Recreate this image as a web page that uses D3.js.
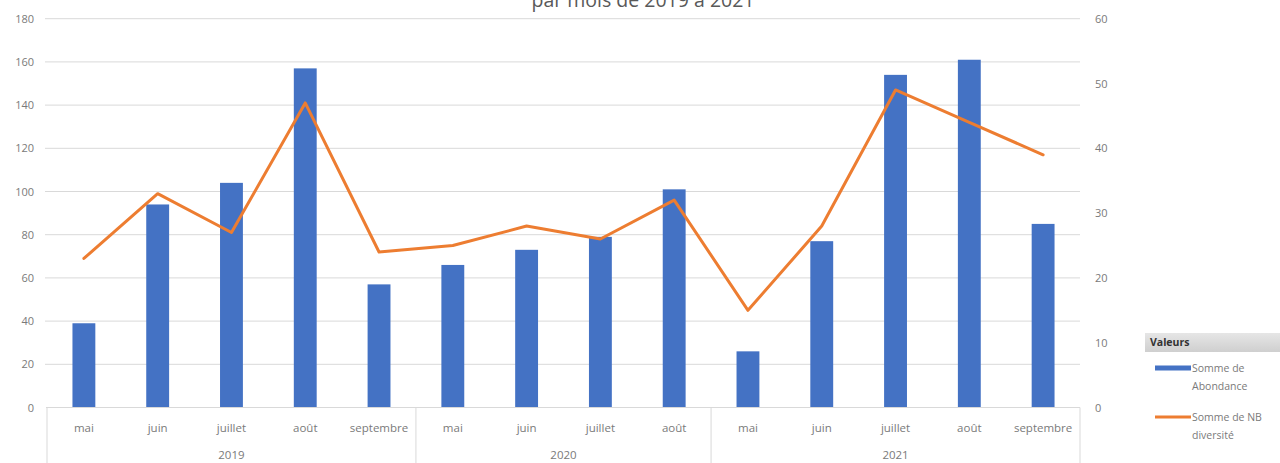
<!DOCTYPE html>
<html>
<head>
<meta charset="utf-8">
<script src="https://cdn.jsdelivr.net/npm/d3@7"></script>
<style>
  html, body { margin: 0; padding: 0; background: #fff; }
  svg { display: block; }
</style>
</head>
<body>
<svg id="chart" width="1280" height="463"></svg>
<script>
// Monthly abundance (bars, left axis) and diversity (line, right axis)
const monthLabels = ["mai", "juin", "juillet", "août", "septembre",
                     "mai", "juin", "juillet", "août",
                     "mai", "juin", "juillet", "août", "septembre"];
const yearOfMonth = ["2019", "2019", "2019", "2019", "2019",
                     "2020", "2020", "2020", "2020",
                     "2021", "2021", "2021", "2021", "2021"];
const years = ["2019", "2020", "2021"];
const abondance = [39, 94, 104, 157, 57, 66, 73, 79, 101, 26, 77, 154, 161, 85];
const diversite = [23, 33, 27, 47, 24, 25, 28, 26, 32, 15, 28, 49, 44, 39];
const leftTicks = [0, 20, 40, 60, 80, 100, 120, 140, 160, 180];
const rightTicks = [0, 10, 20, 30, 40, 50, 60];

const svg = d3.select("#chart");
const font = "'Open Sans', 'Noto Sans', sans-serif";
const textColor = "#7a7a7a";
const gridColor = "#d9d9d9";

const plot = { left: 47, right: 1080, top: 18.7, bottom: 407.5 };

const keys = monthLabels.map((m, i) => i);
const x = d3.scaleBand()
  .domain(keys)
  .range([plot.left, plot.right])
  .paddingInner(0.69)
  .paddingOuter(0.345);

const yLeft = d3.scaleLinear().domain([0, 180]).range([plot.bottom, plot.top]);
const yRight = d3.scaleLinear().domain([0, 60]).range([plot.bottom, plot.top]);

// Title (second line of the chart heading)
svg.append("text")
  .attr("x", 643)
  .attr("y", 6.5)
  .attr("text-anchor", "middle")
  .attr("font-family", font)
  .attr("font-size", 19.5)
  .attr("fill", "#595959")
  .text("par mois de 2019 à 2021");

// Horizontal gridlines
svg.append("g")
  .selectAll("line")
  .data(leftTicks.filter(d => d > 0))
  .join("line")
  .attr("x1", plot.left - 2)
  .attr("x2", plot.right)
  .attr("y1", d => yLeft(d))
  .attr("y2", d => yLeft(d))
  .attr("stroke", gridColor)
  .attr("stroke-width", 1);

// Left axis
const leftAxis = svg.append("g")
  .attr("transform", `translate(${plot.left - 13},0)`)
  .call(d3.axisLeft(yLeft).tickValues(leftTicks).tickSize(0).tickPadding(0));
leftAxis.select(".domain").remove();
leftAxis.selectAll("text")
  .attr("font-family", font)
  .attr("font-size", 11)
  .attr("fill", textColor);

// Right axis
const rightAxis = svg.append("g")
  .attr("transform", `translate(${plot.right + 15},0)`)
  .call(d3.axisRight(yRight).tickValues(rightTicks).tickSize(0).tickPadding(0));
rightAxis.select(".domain").remove();
rightAxis.selectAll("text")
  .attr("font-family", font)
  .attr("font-size", 11)
  .attr("fill", textColor);

// Bars
svg.append("g")
  .selectAll("rect")
  .data(abondance)
  .join("rect")
  .attr("x", (d, i) => x(i))
  .attr("width", x.bandwidth())
  .attr("y", d => yLeft(d))
  .attr("height", d => yLeft(0) - yLeft(d))
  .attr("fill", "#4472C4");

// Diversity line
const line = d3.line()
  .x((d, i) => x(i) + x.bandwidth() / 2)
  .y(d => yRight(d));
svg.append("path")
  .datum(diversite)
  .attr("d", line)
  .attr("fill", "none")
  .attr("stroke", "#ED7D31")
  .attr("stroke-width", 3)
  .attr("stroke-linejoin", "round")
  .attr("stroke-linecap", "round");

// Category axis: baseline, group separators, labels
const axisG = svg.append("g");
axisG.append("line")
  .attr("x1", plot.left - 1).attr("x2", plot.right)
  .attr("y1", plot.bottom).attr("y2", plot.bottom)
  .attr("stroke", gridColor).attr("stroke-width", 1);

const step = x.step();
const groupBounds = years.map(yr => {
  const idx = keys.filter(i => yearOfMonth[i] === yr);
  const start = x(idx[0]) - (step - x.bandwidth()) / 2;
  const end = x(idx[idx.length - 1]) + x.bandwidth() + (step - x.bandwidth()) / 2;
  return { yr, start, end };
});

const sepX = [groupBounds[0].start].concat(groupBounds.map(g => g.end));
axisG.selectAll("line.sep")
  .data(sepX)
  .join("line")
  .attr("class", "sep")
  .attr("x1", d => d).attr("x2", d => d)
  .attr("y1", plot.bottom).attr("y2", 463)
  .attr("stroke", gridColor).attr("stroke-width", 1);

axisG.selectAll("text.month")
  .data(monthLabels)
  .join("text")
  .attr("class", "month")
  .attr("x", (d, i) => x(i) + x.bandwidth() / 2)
  .attr("y", 432)
  .attr("text-anchor", "middle")
  .attr("font-family", font)
  .attr("font-size", 11.5)
  .attr("fill", textColor)
  .text(d => d);

axisG.selectAll("text.year")
  .data(groupBounds)
  .join("text")
  .attr("class", "year")
  .attr("x", d => (d.start + d.end) / 2)
  .attr("y", 459)
  .attr("text-anchor", "middle")
  .attr("font-family", font)
  .attr("font-size", 11.5)
  .attr("fill", textColor)
  .text(d => d.yr);

// Legend
const legend = svg.append("g");
const grad = svg.append("defs").append("linearGradient")
  .attr("id", "legendHeader").attr("x1", 0).attr("x2", 0).attr("y1", 0).attr("y2", 1);
grad.append("stop").attr("offset", "0%").attr("stop-color", "#e6e6e6");
grad.append("stop").attr("offset", "100%").attr("stop-color", "#cfcfcf");
legend.append("rect")
  .attr("x", 1145).attr("y", 333).attr("width", 140).attr("height", 19)
  .attr("fill", "url(#legendHeader)");
legend.append("text")
  .attr("x", 1150).attr("y", 346)
  .attr("font-family", font).attr("font-size", 10.5).attr("font-weight", "bold")
  .attr("fill", "#333")
  .text("Valeurs");

const legendItems = [
  { lines: ["Somme de", "Abondance"], color: "#4472C4", width: 5, y: 368 },
  { lines: ["Somme de NB", "diversité"], color: "#ED7D31", width: 3, y: 417 }
];
legendItems.forEach(item => {
  legend.append("line")
    .attr("x1", 1155).attr("x2", 1191)
    .attr("y1", item.y).attr("y2", item.y)
    .attr("stroke", item.color).attr("stroke-width", item.width);
  item.lines.forEach((t, k) => {
    legend.append("text")
      .attr("x", 1192).attr("y", item.y + 4 + k * 18)
      .attr("font-family", font).attr("font-size", 10.5)
      .attr("fill", textColor)
      .text(t);
  });
});
</script>
</body>
</html>
